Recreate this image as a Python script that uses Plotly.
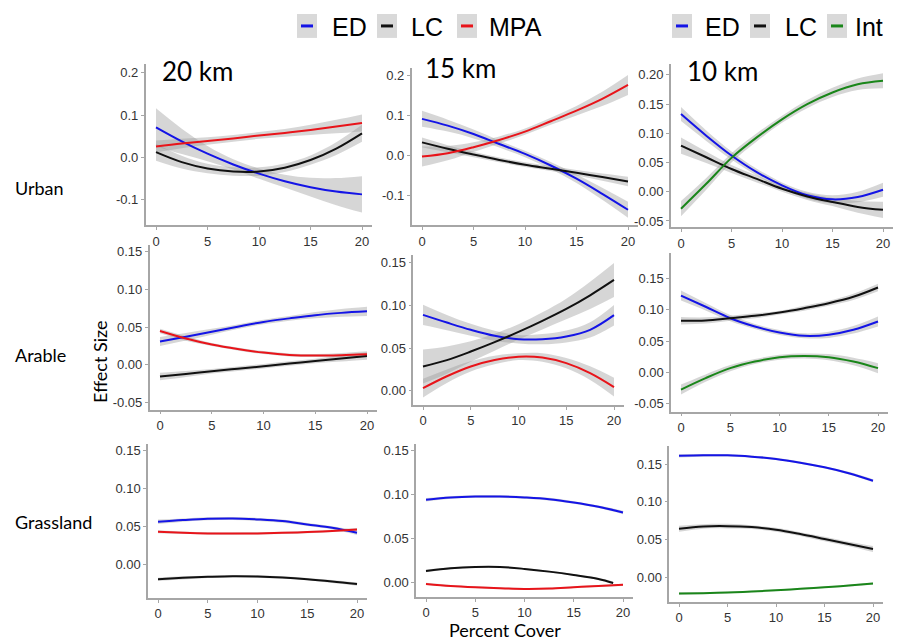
import plotly.graph_objects as go

# ---------------- data ----------------
X = [0, 2.5, 5, 7.5, 10, 12.5, 15, 17.5, 20]
X_LC_15_grass = [0, 2.5, 5, 7.5, 10, 12.5, 15, 17.5, 19]

scales = ["20 km", "15 km", "10 km"]
habitats = ["Urban", "Arable", "Grassland"]
x_ticks = [0, 5, 10, 15, 20]

# Urban 20 km
u20_ED = [0.071, 0.038, 0.009, -0.0164, -0.038, -0.0559, -0.070, -0.0804, -0.087]
u20_ED_ci = [0.045, 0.030, 0.018, 0.012, 0.012, 0.015, 0.022, 0.032, 0.043]
u20_LC = [0.0125, -0.011, -0.026, -0.033, -0.033, -0.024, -0.006, 0.021, 0.057]
u20_LC_ci = [0.020, 0.015, 0.011, 0.010, 0.010, 0.010, 0.011, 0.015, 0.020]
u20_MPA = [0.026, 0.033, 0.039, 0.045, 0.052, 0.058, 0.065, 0.073, 0.0816]
u20_MPA_ci = [0.014, 0.011, 0.009, 0.008, 0.008, 0.009, 0.012, 0.016, 0.020]
# Urban 15 km
u15_ED = [0.092, 0.075, 0.054, 0.029, 0.004, -0.025, -0.058, -0.096, -0.136]
u15_ED_ci = [0.020, 0.015, 0.011, 0.009, 0.008, 0.009, 0.011, 0.015, 0.020]
u15_LC = [0.033, 0.017, 0.0025, -0.011, -0.023, -0.033, -0.043, -0.054, -0.065]
u15_LC_ci = [0.012, 0.009, 0.007, 0.006, 0.006, 0.006, 0.007, 0.009, 0.012]
u15_MPA = [-0.0025, 0.006, 0.021, 0.039, 0.060, 0.086, 0.1125, 0.142, 0.177]
u15_MPA_ci = [0.025, 0.018, 0.012, 0.009, 0.008, 0.009, 0.012, 0.018, 0.025]
# Urban 10 km
u10_ED = [0.133, 0.096, 0.062, 0.0335, 0.011, -0.006, -0.013, -0.009, 0.0034]
u10_ED_ci = [0.012, 0.009, 0.007, 0.006, 0.005, 0.006, 0.007, 0.009, 0.012]
u10_LC = [0.079, 0.059, 0.039, 0.022, 0.005, -0.008, -0.0176, -0.026, -0.031]
u10_LC_ci = [0.014, 0.010, 0.007, 0.006, 0.005, 0.006, 0.007, 0.010, 0.014]
u10_Int = [-0.029, 0.0136, 0.058, 0.093, 0.124, 0.150, 0.170, 0.184, 0.190]
u10_Int_ci = [0.013, 0.010, 0.008, 0.007, 0.006, 0.007, 0.008, 0.010, 0.013]

# Arable 20 km
a20_ED = [0.031, 0.0374, 0.044, 0.0507, 0.057, 0.0617, 0.066, 0.069, 0.071]
a20_ED_ci = [0.006, 0.005, 0.004, 0.003, 0.003, 0.003, 0.004, 0.005, 0.006]
a20_LC = [-0.0154, -0.012, -0.0085, -0.005, -0.0018, 0.0017, 0.0051, 0.0085, 0.0119]
a20_LC_ci = [0.005, 0.004, 0.003, 0.003, 0.003, 0.003, 0.003, 0.004, 0.005]
a20_MPA = [0.045, 0.035, 0.027, 0.021, 0.0163, 0.0132, 0.0123, 0.0128, 0.014]
a20_MPA_ci = [0.003, 0.003, 0.002, 0.002, 0.002, 0.002, 0.002, 0.003, 0.004]
# Arable 15 km
a15_ED = [0.089, 0.080, 0.0715, 0.0645, 0.0605, 0.0605, 0.0637, 0.0715, 0.0887]
a15_ED_ci = [0.012, 0.009, 0.007, 0.006, 0.005, 0.006, 0.007, 0.009, 0.012]
a15_LC = [0.0285, 0.036, 0.046, 0.057, 0.069, 0.082, 0.096, 0.112, 0.130]
a15_LC_ci = [0.020, 0.016, 0.012, 0.010, 0.009, 0.010, 0.012, 0.016, 0.020]
a15_MPA = [0.003, 0.017, 0.0285, 0.036, 0.040, 0.039, 0.0324, 0.0207, 0.0043]
a15_MPA_ci = [0.011, 0.008, 0.006, 0.005, 0.004, 0.005, 0.006, 0.008, 0.011]
# Arable 10 km
a10_ED = [0.123, 0.105, 0.0866, 0.0733, 0.0636, 0.0583, 0.060, 0.068, 0.0813]
a10_ED_ci = [0.008, 0.006, 0.005, 0.004, 0.004, 0.004, 0.005, 0.006, 0.008]
a10_LC = [0.0824, 0.083, 0.0866, 0.0904, 0.0957, 0.1027, 0.1107, 0.121, 0.136]
a10_LC_ci = [0.006, 0.005, 0.004, 0.004, 0.003, 0.004, 0.004, 0.005, 0.006]
a10_Int = [-0.028, -0.0096, 0.0064, 0.017, 0.024, 0.026, 0.024, 0.017, 0.0064]
a10_Int_ci = [0.008, 0.006, 0.005, 0.004, 0.004, 0.004, 0.005, 0.006, 0.008]

# Grassland 20 km
g20_ED = [0.0565, 0.0587, 0.0604, 0.0609, 0.0596, 0.0574, 0.053, 0.0487, 0.0422]
g20_ED_ci = [0.003, 0.002, 0.002, 0.002, 0.002, 0.002, 0.002, 0.002, 0.003]
g20_LC = [-0.0187, -0.017, -0.0157, -0.0148, -0.0152, -0.0165, -0.0187, -0.0217, -0.0252]
g20_LC_ci = [0.002, 0.002, 0.0015, 0.0015, 0.0015, 0.0015, 0.0015, 0.002, 0.002]
g20_MPA = [0.0435, 0.0422, 0.0413, 0.0411, 0.0413, 0.042, 0.043, 0.0446, 0.0465]
g20_MPA_ci = [0.002, 0.0015, 0.0015, 0.0015, 0.0015, 0.0015, 0.0015, 0.0015, 0.002]
# Grassland 15 km
g15_ED = [0.094, 0.0966, 0.0977, 0.0977, 0.0966, 0.0947, 0.0909, 0.086, 0.0795]
g15_ED_ci = [0.002, 0.0015, 0.0015, 0.0015, 0.0015, 0.0015, 0.0015, 0.0015, 0.002]
g15_LC = [0.0129, 0.0159, 0.0174, 0.0174, 0.0152, 0.0121, 0.0083, 0.0038, -0.0008]
g15_LC_ci = [0.0015, 0.0012, 0.001, 0.001, 0.001, 0.001, 0.001, 0.0012, 0.0015]
g15_MPA = [-0.0019, -0.0042, -0.0057, -0.0068, -0.0076, -0.0072, -0.0057, -0.0042, -0.003]
g15_MPA_ci = [0.0012, 0.001, 0.001, 0.001, 0.001, 0.001, 0.001, 0.001, 0.0012]
# Grassland 10 km
g10_ED = [0.161, 0.1617, 0.1617, 0.160, 0.157, 0.152, 0.1458, 0.138, 0.128]
g10_ED_ci = [0.002, 0.0018, 0.0015, 0.0015, 0.0015, 0.0015, 0.0015, 0.0018, 0.002]
g10_LC = [0.0643, 0.0674, 0.0678, 0.0665, 0.063, 0.0573, 0.0507, 0.044, 0.0374]
g10_LC_ci = [0.004, 0.003, 0.003, 0.0025, 0.0025, 0.0025, 0.003, 0.003, 0.004]
g10_Int = [-0.0216, -0.0211, -0.0203, -0.019, -0.0172, -0.0154, -0.0132, -0.011, -0.0084]
g10_Int_ci = [0.0015, 0.0012, 0.001, 0.001, 0.001, 0.001, 0.001, 0.0012, 0.0015]

colors = {"ED": "#1414e6", "LC": "#111111", "MPA": "#e8141a", "Int": "#1a861a"}

panels = [
    [("ED", X, u20_ED, u20_ED_ci), ("LC", X, u20_LC, u20_LC_ci), ("MPA", X, u20_MPA, u20_MPA_ci)],
    [("ED", X, u15_ED, u15_ED_ci), ("LC", X, u15_LC, u15_LC_ci), ("MPA", X, u15_MPA, u15_MPA_ci)],
    [("ED", X, u10_ED, u10_ED_ci), ("LC", X, u10_LC, u10_LC_ci), ("Int", X, u10_Int, u10_Int_ci)],
    [("ED", X, a20_ED, a20_ED_ci), ("LC", X, a20_LC, a20_LC_ci), ("MPA", X, a20_MPA, a20_MPA_ci)],
    [("ED", X, a15_ED, a15_ED_ci), ("LC", X, a15_LC, a15_LC_ci), ("MPA", X, a15_MPA, a15_MPA_ci)],
    [("ED", X, a10_ED, a10_ED_ci), ("LC", X, a10_LC, a10_LC_ci), ("Int", X, a10_Int, a10_Int_ci)],
    [("ED", X, g20_ED, g20_ED_ci), ("LC", X, g20_LC, g20_LC_ci), ("MPA", X, g20_MPA, g20_MPA_ci)],
    [("ED", X, g15_ED, g15_ED_ci), ("LC", X_LC_15_grass, g15_LC, g15_LC_ci), ("MPA", X, g15_MPA, g15_MPA_ci)],
    [("ED", X, g10_ED, g10_ED_ci), ("LC", X, g10_LC, g10_LC_ci), ("Int", X, g10_Int, g10_Int_ci)],
]

# ---------------- layout geometry (pixels in the 906x644 window) ----------------
OFF = 8                      # default page body margin
W, H = 906 - OFF, 644 - OFF  # figure size so it fits in the window


def fx(px):
    return (px - OFF) / W


def fy(py):
    return 1 - (py - OFF) / H


px_x = [(156, 362), (422, 628), (681, 883),
        (160, 367), (423, 614), (681, 878),
        (158, 357), (426, 623), (679, 873)]
px_y = [(63, 225), (67, 225), (63, 227),
        (245, 410), (255, 405), (253, 412),
        (444, 599), (444, 598), (446, 603)]
y_ranges = [(-0.16, 0.221), (-0.175, 0.22), (-0.0609, 0.219),
            (-0.0595, 0.1587), (-0.0164, 0.159), (-0.0636, 0.191),
            (-0.0436, 0.159), (-0.017, 0.158), (-0.033, 0.1746)]
y_ticks = [[-0.1, 0.0, 0.1, 0.2], [-0.1, 0.0, 0.1, 0.2], [-0.05, 0, 0.05, 0.10, 0.15, 0.20],
           [-0.05, 0, 0.05, 0.10, 0.15], [0, 0.05, 0.10, 0.15], [-0.05, 0, 0.05, 0.10, 0.15],
           [0, 0.05, 0.10, 0.15], [0, 0.05, 0.10, 0.15], [0, 0.05, 0.10, 0.15]]

fig = go.Figure()
band_fill = "rgba(153,153,153,0.4)"

for i, series in enumerate(panels):
    xa = "x" if i == 0 else f"x{i+1}"
    ya = "y" if i == 0 else f"y{i+1}"
    for name, xs, ys, ci in series:
        lo = [a - b for a, b in zip(ys, ci)]
        hi = [a + b for a, b in zip(ys, ci)]
        fig.add_trace(go.Scatter(x=xs, y=lo, mode="lines", line=dict(width=0, shape="spline"),
                                 xaxis=xa, yaxis=ya, showlegend=False, hoverinfo="skip"))
        fig.add_trace(go.Scatter(x=xs, y=hi, mode="lines", line=dict(width=0, shape="spline"),
                                 fill="tonexty", fillcolor=band_fill,
                                 xaxis=xa, yaxis=ya, showlegend=False, hoverinfo="skip"))
    for name, xs, ys, ci in series:
        fig.add_trace(go.Scatter(x=xs, y=ys, mode="lines", name=name,
                                 line=dict(color=colors[name], width=2, shape="spline"),
                                 xaxis=xa, yaxis=ya, showlegend=False))

axis_common = dict(showgrid=False, zeroline=False, showline=True, linecolor="#a6a6a6", linewidth=1.5,
                   ticks="outside", ticklen=3, tickcolor="#a6a6a6", tickwidth=1.2,
                   tickfont=dict(family="Liberation Sans, Arial", size=13, color="#333333"))

layout = dict(width=W, height=H, margin=dict(l=0, r=0, t=0, b=0),
              paper_bgcolor="white", plot_bgcolor="white", showlegend=False)

for i in range(9):
    x0, x20 = px_x[i]
    unit = (x20 - x0) / 20.0
    left, right = x0 - unit, x20 + unit
    top, bottom = px_y[i]
    xk = "xaxis" if i == 0 else f"xaxis{i+1}"
    yk = "yaxis" if i == 0 else f"yaxis{i+1}"
    ya_ref = "y" if i == 0 else f"y{i+1}"
    xa_ref = "x" if i == 0 else f"x{i+1}"
    layout[xk] = dict(axis_common, domain=[fx(left), fx(right)], range=[-1, 21],
                      tickvals=x_ticks, ticktext=[str(t) for t in x_ticks], anchor=ya_ref)
    if i < 2:
        tt = [f"{v:.1f}" for v in y_ticks[i]]
    else:
        tt = [f"{v:.2f}" for v in y_ticks[i]]
    layout[yk] = dict(axis_common, domain=[fy(bottom), fy(top)], range=list(y_ranges[i]),
                      tickvals=y_ticks[i], ticktext=tt, anchor=xa_ref)

fig.update_layout(**layout)

ann = []
lato = "Lato, Open Sans, sans-serif"
# panel titles
for (txt, xp, yp) in [(scales[0], 160, 70), (scales[1], 423, 67), (scales[2], 685, 70)]:
    ann.append(dict(text=txt, x=fx(xp), y=fy(yp), xref="paper", yref="paper",
                    xanchor="left", yanchor="middle", showarrow=False,
                    font=dict(family=lato, size=26, color="black")))
# row labels
for (txt, yp) in [(habitats[0], 188), (habitats[1], 355), (habitats[2], 523)]:
    ann.append(dict(text=txt, x=fx(13), y=fy(yp), xref="paper", yref="paper",
                    xanchor="left", yanchor="middle", showarrow=False,
                    font=dict(family=lato, size=18, color="black")))
ann.append(dict(text="Effect Size", x=fx(100), y=fy(362), xref="paper", yref="paper",
                textangle=-90, xanchor="center", yanchor="middle", showarrow=False,
                font=dict(family=lato, size=18, color="black")))
ann.append(dict(text="Percent Cover", x=fx(505), y=fy(631), xref="paper", yref="paper",
                xanchor="center", yanchor="middle", showarrow=False,
                font=dict(family=lato, size=18, color="black")))

# legends (keys drawn as shapes)
shapes = []
legend_items = [("ED", 297, 330), ("LC", 377, 409), ("MPA", 457, 487),
                ("ED", 672, 703), ("LC", 750, 783), ("Int", 827, 853)]
for name, bx, tx in legend_items:
    shapes.append(dict(type="rect", xref="paper", yref="paper",
                       x0=fx(bx), x1=fx(bx + 20), y0=fy(37), y1=fy(13),
                       fillcolor="#d9d9d9", line=dict(width=0)))
    shapes.append(dict(type="line", xref="paper", yref="paper",
                       x0=fx(bx + 4), x1=fx(bx + 16), y0=fy(25), y1=fy(25),
                       line=dict(color=colors[name], width=3)))
    ann.append(dict(text=name, x=fx(tx), y=fy(26), xref="paper", yref="paper",
                    xanchor="left", yanchor="middle", showarrow=False,
                    font=dict(family="Liberation Sans, Arial", size=25, color="black")))

fig.update_layout(annotations=ann, shapes=shapes)
fig.write_html("out.html")
